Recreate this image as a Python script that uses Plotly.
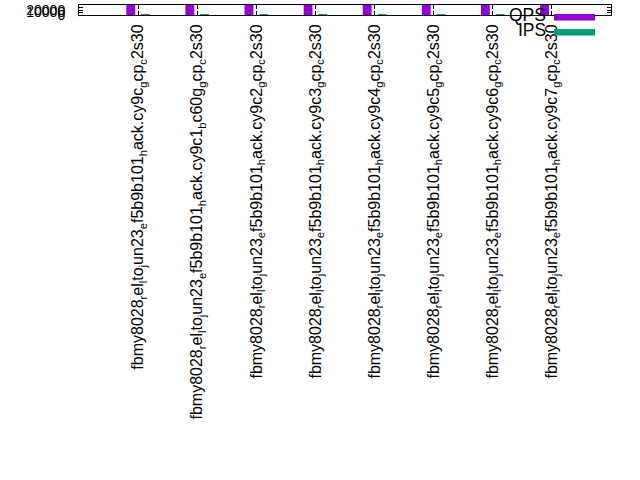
import plotly.graph_objects as go

categories = [
    "fbmy8028<sub>r</sub>el<sub>l</sub>to<sub>j</sub>un23<sub>e</sub>f5b9b101<sub>h</sub>ack.cy9c<sub>g</sub>cp<sub>c</sub>2s30",
    "fbmy8028<sub>r</sub>el<sub>l</sub>to<sub>j</sub>un23<sub>e</sub>f5b9b101<sub>h</sub>ack.cy9c1<sub>b</sub>c60g<sub>g</sub>cp<sub>c</sub>2s30",
    "fbmy8028<sub>r</sub>el<sub>l</sub>to<sub>j</sub>un23<sub>e</sub>f5b9b101<sub>h</sub>ack.cy9c2<sub>g</sub>cp<sub>c</sub>2s30",
    "fbmy8028<sub>r</sub>el<sub>l</sub>to<sub>j</sub>un23<sub>e</sub>f5b9b101<sub>h</sub>ack.cy9c3<sub>g</sub>cp<sub>c</sub>2s30",
    "fbmy8028<sub>r</sub>el<sub>l</sub>to<sub>j</sub>un23<sub>e</sub>f5b9b101<sub>h</sub>ack.cy9c4<sub>g</sub>cp<sub>c</sub>2s30",
    "fbmy8028<sub>r</sub>el<sub>l</sub>to<sub>j</sub>un23<sub>e</sub>f5b9b101<sub>h</sub>ack.cy9c5<sub>g</sub>cp<sub>c</sub>2s30",
    "fbmy8028<sub>r</sub>el<sub>l</sub>to<sub>j</sub>un23<sub>e</sub>f5b9b101<sub>h</sub>ack.cy9c6<sub>g</sub>cp<sub>c</sub>2s30",
    "fbmy8028<sub>r</sub>el<sub>l</sub>to<sub>j</sub>un23<sub>e</sub>f5b9b101<sub>h</sub>ack.cy9c7<sub>g</sub>cp<sub>c</sub>2s30",
]
qps = [40000, 40000, 40000, 40000, 40000, 40000, 40000, 40000]
ips = [4000, 4000, 4000, 4000, 4000, 4000, 4000, 4000]
y_ticks = [0, 10000, 20000, 30000, 40000]

QPS_COLOR = "#9400d3"
IPS_COLOR = "#009e73"
FONT = "Liberation Sans"

fig = go.Figure()
fig.add_trace(go.Bar(x=categories, y=qps, name="QPS", marker=dict(color=QPS_COLOR, line=dict(width=0)), showlegend=False))
fig.add_trace(go.Bar(x=categories, y=ips, name="IPS", marker=dict(color=IPS_COLOR, line=dict(width=0)), showlegend=False))

L, R, T, B = 79, 29, 5, 465
W, H = 640, 480
pw = W - L - R
ph = H - T - B

def px_x(p):
    return (p - L) / pw

def px_y(p):
    return (H - B - p) / ph

# legend (text left, key right) placed like the reference
for name, color, ty, ky0, ky1 in [("QPS", QPS_COLOR, 15, 14, 20.5), ("IPS", IPS_COLOR, 30, 29, 35.5)]:
    fig.add_annotation(text=name, xref="paper", yref="paper", x=px_x(548), y=px_y(ty),
                       xanchor="right", yanchor="middle", showarrow=False,
                       font=dict(family=FONT, size=17.5, color="black"))
    fig.add_shape(type="rect", xref="paper", yref="paper",
                  x0=px_x(554), x1=px_x(595), y0=px_y(ky1), y1=px_y(ky0),
                  fillcolor=color, line=dict(width=0))

fig.update_layout(
    width=W, height=H,
    margin=dict(l=L, r=R, t=T, b=B, pad=0, autoexpand=False),
    paper_bgcolor="white", plot_bgcolor="white",
    barmode="group", bargap=0.5, bargroupgap=0.4,
    font=dict(family=FONT, size=14, color="black"),
    showlegend=False,
)
fig.update_xaxes(
    type="category", range=[-1, 8], tickangle=-90, automargin=False,
    ticks="inside", ticklen=4, tickcolor="black", mirror="ticks",
    showline=True, linecolor="black", linewidth=1, showgrid=False,
    tickfont=dict(family=FONT, size=16), ticklabelstandoff=2,
)
fig.update_yaxes(
    range=[0, 40000], tickmode="array", tickvals=y_ticks, automargin=False,
    ticktext=[str(v) for v in y_ticks],
    ticks="inside", ticklen=4, tickcolor="black", mirror="ticks",
    showline=True, linecolor="black", linewidth=1, showgrid=False, zeroline=False,
    tickfont=dict(family=FONT, size=14), ticklabelstandoff=10,
)

fig.write_html(
    "out.html",
    config={"displayModeBar": False, "staticPlot": True},
    post_script="document.body.style.margin='0';document.body.style.overflow='hidden';",
)
